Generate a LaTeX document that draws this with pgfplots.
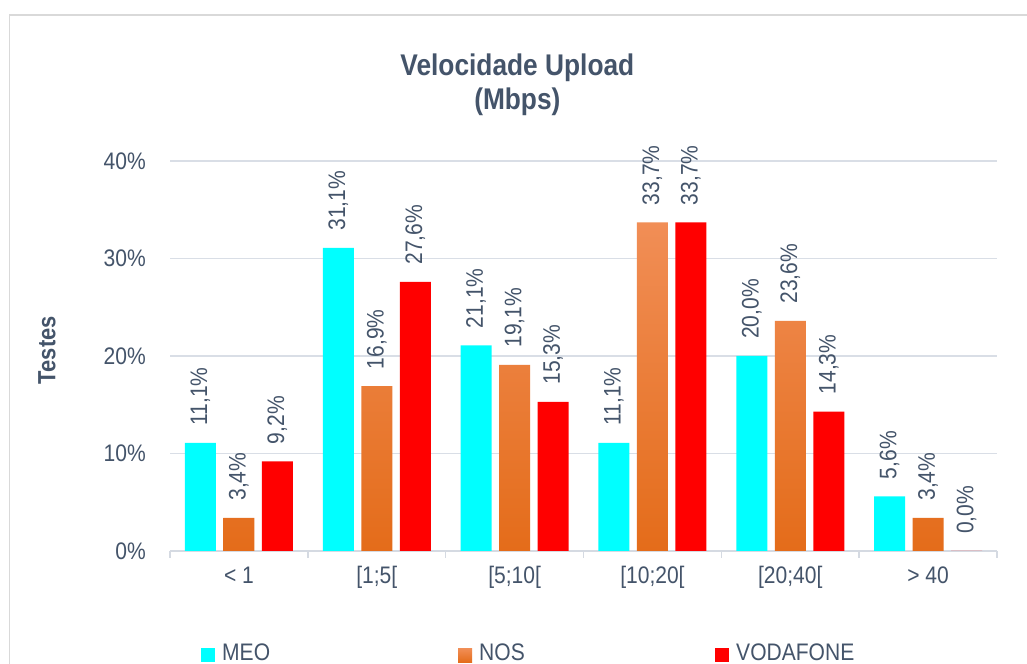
\documentclass[border=0pt]{standalone}
\usepackage{fontspec}
\setmainfont{Liberation Sans}[FakeStretch=0.88]
\usepackage{pgfplots}
\pgfplotsset{compat=1.18}
\definecolor{txt}{HTML}{44546A}
\definecolor{gridc}{HTML}{D9DEE6}
\definecolor{axc}{HTML}{D5DAE2}
\definecolor{meo}{HTML}{00FFFF}
\definecolor{nosT}{HTML}{F18E56}
\definecolor{nosB}{HTML}{E46C1A}
\definecolor{vod}{HTML}{FF0000}
\definecolor{framec}{HTML}{D9D9D9}

\begin{document}
\begin{tikzpicture}[x=1bp,y=1bp,text=txt]
\useasboundingbox (0,0) rectangle (1027,664);
\fill[white] (0,0) rectangle (1027,664);
\draw[framec, line width=1.5bp] (9.5,-5) -- (9.5,649) -- (1035,649);
\begin{axis}[
  at={(170bp,113bp)}, anchor=south west,
  scale only axis, width=827bp, height=390bp,
  clip=false,
  ybar=7.5bp, bar width=31bp,
  xmin=-0.5, xmax=5.5, ymin=0, ymax=40,
  xtick={0,...,5},
  xticklabels={{< 1},{[1;5[},{[5;10[},{[10;20[},{[20;40[},{> 40}},
  minor xtick={-0.5,0.5,...,5.5},
  tick align=outside,
  major tick length=0pt, minor tick length=7bp,
  major x tick style={draw=none},
  minor x tick style={axc, line width=1.5bp},
  axis x line*=bottom, axis y line*=left,
  y axis line style={draw=none},
  x axis line style={axc, line width=1.5bp, -},
  ytick={0,10,...,40},
  ytick style={draw=none},
  ymajorgrids, grid style={gridc, line width=1.5bp},
  /pgf/number format/assume math mode=true,
  yticklabel={\pgfmathprintnumber{\tick}\%},
  tick label style={font=\fontsize{24}{28}\selectfont, text=txt},
  yticklabel style={anchor=east, inner sep=0pt, xshift=-24bp},
  xticklabel style={anchor=north, inner sep=0pt, yshift=-15bp, text height=17.5bp, text depth=5bp},
  title={Velocidade Upload\\(Mbps)},
  title style={at={(axis description cs:0.42,1.2608)}, anchor=north, align=center, inner sep=0pt,
    font=\fontsize{30}{34}\selectfont\bfseries, text=txt},
  ylabel={Testes},
  ylabel style={at={(axis description cs:-0.1487,0.515)}, anchor=center, inner sep=0pt,
    font=\fontsize{25}{28}\selectfont\bfseries, text=txt},
  nodes near coords={\pgfmathprintnumber[fixed,fixed zerofill,precision=1,use comma]{\pgfplotspointmeta}\%},
  every node near coord/.append style={rotate=90, anchor=west, inner xsep=17bp, inner ysep=0pt,
    font=\fontsize{24}{28}\selectfont, text=txt},
  legend columns=3,
  legend image code/.code={\path[#1, draw=none] (0bp,-9bp) rectangle (14bp,5bp);},
  legend style={at={(axis description cs:0.0375,-0.2625)}, anchor=west, draw=none, fill=none,
    inner sep=0pt, font=\fontsize{24}{28}\selectfont, text=txt,
    nodes={inner sep=0pt},
    /tikz/every odd column/.append style={column sep=7bp}},
]
\addplot[fill=meo, draw=none] coordinates {(0,11.1) (1,31.1) (2,21.1) (3,11.1) (4,20.0) (5,5.6)};
\addplot[draw=none, top color=nosT, bottom color=nosB] coordinates {(0,3.4) (1,16.9) (2,19.1) (3,33.7) (4,23.6) (5,3.4)};
\addplot[fill=vod, draw=none] coordinates {(0,9.2) (1,27.6) (2,15.3) (3,33.7) (4,14.3) (5,0.0)};
\addlegendentry{\makebox[236bp][l]{MEO}}
\addlegendentry{\makebox[236bp][l]{NOS}}
\addlegendentry{VODAFONE}
\end{axis}
\end{tikzpicture}
\end{document}
